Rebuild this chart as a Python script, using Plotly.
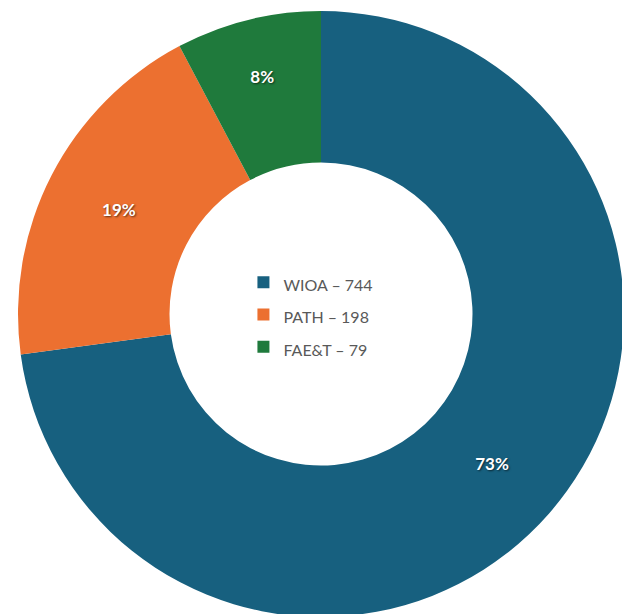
import plotly.graph_objects as go

programs = ["WIOA", "PATH", "FAE&T"]
counts = [744, 198, 79]
colors = ["#17607F", "#EC7030", "#1F7A3C"]

legend_labels = [f'<span style="font-size:16px">{p} – {c}</span>' for p, c in zip(programs, counts)]

fig = go.Figure(
    go.Pie(
        labels=legend_labels,
        values=counts,
        hole=0.5,
        sort=False,
        direction="clockwise",
        rotation=0,
        marker=dict(colors=colors, line=dict(width=0)),
        texttemplate="%{percent:.0%}",
        textposition="inside",
        insidetextorientation="horizontal",
        textfont=dict(family="Lato", size=17, color="white", weight="bold",
                      shadow="1px 1px 2px rgba(0,0,0,0.6)"),
        hoverinfo="label+value+percent",
    )
)

fig.update_layout(
    width=630,
    height=614,
    margin=dict(l=10, r=14, t=3, b=5),
    paper_bgcolor="white",
    plot_bgcolor="white",
    showlegend=True,
    legend=dict(
        x=0.372,
        y=0.499,
        xanchor="left",
        yanchor="middle",
        font=dict(family="Lato", size=22.5, color="#595959"),
        bgcolor="rgba(0,0,0,0)",
    ),
)

fig.write_html("out.html")
